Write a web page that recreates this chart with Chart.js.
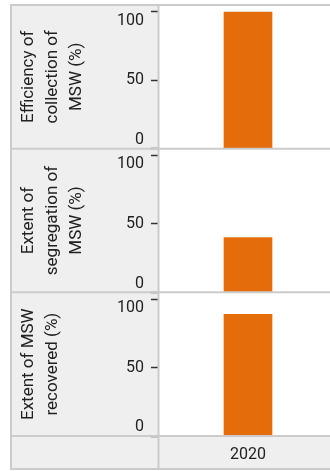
<!DOCTYPE html>
<html lang="en">
<head>
<meta charset="UTF-8">
<title>MSW indicators</title>
<style>
  html, body { margin: 0; padding: 0; background: #fff; overflow: hidden; }
  canvas { display: block; }
</style>
<script src="https://cdn.jsdelivr.net/npm/chart.js"></script>
</head>
<body>
<canvas id="mswChart" width="340" height="471"></canvas>
<script>
// data
const years = ["2020"];
const rowTitles = [
  ["Efficiency of", "collection of", "MSW (%)"],
  ["Extent of", "segregation of", "MSW (%)"],
  ["Extent of MSW", "recovered (%)"]
];
const collectionEfficiency = [100];
const segregationExtent = [40];
const recoveryExtent = [89];
const yTicks = [0, 50, 100];

const BAR = "#e46c0a";
const PANEL = "#efefef";
const RULE = "#cbcbcb";
const TEXT = "#222";
const FONT = "Roboto, 'Noto Sans', sans-serif";

// one y scale per row, stacked on the left
function rowScale(i) {
  return {
    type: "linear",
    position: "left",
    stack: "rows",
    stackWeight: 1,
    weight: 3 - i,
    min: 0,
    max: 105.1,
    afterFit: s => {
      s.width = 149;
      s.paddingTop = 0;
      s.paddingBottom = 0;
    },
    afterBuildTicks: s => { s.ticks = yTicks.map(v => ({ value: v })); },
    border: { display: false },
    grid: { drawOnChartArea: false, drawTicks: true, tickLength: 8, tickColor: "#333", tickWidth: 1.5 },
    ticks: {
      color: TEXT,
      padding: 7,
      font: { family: FONT, size: 16, lineHeight: 1.1 },
      // first and last labels sit inside the row
      callback: v => v === 0 ? ["0", ""] : v === 100 ? ["", "100"] : String(v)
    },
    title: {
      display: true,
      text: rowTitles[i],
      color: TEXT,
      font: { family: FONT, size: 17, lineHeight: 1.4 },
      padding: { top: 7, bottom: 0 }
    }
  };
}

const panelFrame = {
  id: "panelFrame",
  beforeDraw(chart) {
    const { ctx, chartArea: a, scales } = chart;
    const x = scales.x;
    ctx.save();
    ctx.fillStyle = PANEL;
    ctx.fillRect(10, 5, a.left - 10, x.bottom - 5);
    ctx.fillRect(a.left, x.top, a.right - a.left + 10, x.bottom - x.top);
    ctx.restore();
  },
  afterDraw(chart) {
    const { ctx, chartArea: a, scales } = chart;
    const x = scales.x;
    const right = chart.width;
    ctx.save();
    ctx.strokeStyle = RULE;
    ctx.lineWidth = 2;
    ctx.beginPath();
    // outer frame
    ctx.moveTo(11, 5); ctx.lineTo(11, x.bottom);
    ctx.moveTo(10, 5); ctx.lineTo(right, 5);
    ctx.moveTo(10, x.bottom - 1); ctx.lineTo(right, x.bottom - 1);
    // row dividers
    ["y0", "y1", "y2"].forEach(id => {
      const s = scales[id];
      ctx.moveTo(10, s.bottom); ctx.lineTo(right, s.bottom);
    });
    // header column divider
    ctx.moveTo(a.left - 0.5, 5); ctx.lineTo(a.left - 0.5, x.bottom);
    ctx.stroke();
    ctx.restore();
  }
};

const series = [collectionEfficiency, segregationExtent, recoveryExtent];

new Chart(document.getElementById("mswChart"), {
  type: "bar",
  data: {
    labels: years,
    datasets: series.map((values, i) => ({
      data: values,
      yAxisID: "y" + i,
      backgroundColor: BAR,
      borderWidth: 0,
      barThickness: 48,
      grouped: false
    }))
  },
  options: {
    responsive: false,
    animation: false,
    layout: { padding: { left: 10, top: 5, right: 3, bottom: 1 } },
    plugins: { legend: { display: false }, tooltip: { enabled: false } },
    scales: {
      x: {
        afterFit: s => {
          s.height = 34;
          s.paddingLeft = 0;
          s.paddingRight = 0;
        },
        border: { display: false },
        grid: { display: false, drawTicks: false },
        ticks: { color: TEXT, padding: 9, font: { family: FONT, size: 16 } }
      },
      y0: rowScale(0),
      y1: rowScale(1),
      y2: rowScale(2)
    }
  },
  plugins: [panelFrame]
});
</script>
</body>
</html>
